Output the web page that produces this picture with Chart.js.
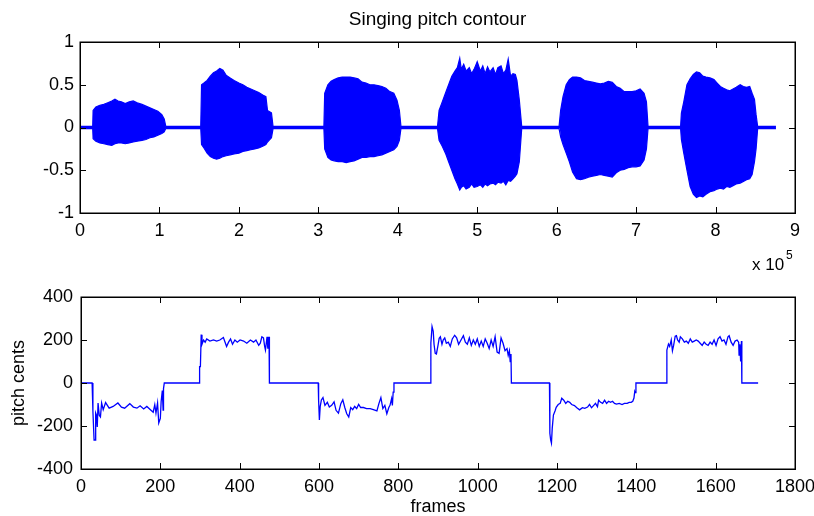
<!DOCTYPE html>
<html><head><meta charset="utf-8">
<script src="https://cdn.jsdelivr.net/npm/chart.js@4"></script>
<style>
html,body{margin:0;padding:0;background:#fff;}
#wrap{position:relative;width:814px;height:516px;overflow:hidden;}
#c1{position:absolute;left:0;top:0;width:814px;height:280px;}
#c2{position:absolute;left:0;top:280px;width:814px;height:236px;}
</style></head><body>
<div id="wrap"><canvas id="c1" width="814" height="280"></canvas><canvas id="c2" width="814" height="236"></canvas></div>
<script>
// ---------- DATA ----------
const titleText = 'Singing pitch contour';
const waveXTicks = [0,1,2,3,4,5,6,7,8,9];
const waveYTicks = [-1,-0.5,0,0.5,1];
const pitchXTicks = [0,200,400,600,800,1000,1200,1400,1600,1800];
const pitchYTicks = [-400,-200,0,200,400];
const xLabelBottom = 'frames';
const yLabelBottom = 'pitch cents';

// waveform envelope (x in units of 10^5 samples)
const waveX = [
 0, 0.16,
 0.165,0.2,0.25,0.3,0.35,0.4,0.44,0.48,0.52,0.57,0.62,0.67,0.72,0.78,0.83,0.88,0.93,0.98,1.03,1.06,1.08,
 1.1, 1.5,
 1.52,1.53,1.56,1.6,1.64,1.68,1.72,1.76,1.8,1.84,1.89,1.94,2.0,2.05,2.1,2.15,2.2,2.25,2.3,2.34,2.36,2.41,2.43,
 2.45, 3.05,
 3.07,3.08,3.12,3.16,3.2,3.25,3.3,3.35,3.4,3.45,3.5,3.55,3.6,3.65,3.7,3.75,3.8,3.85,3.9,3.95,3.99,4.02,4.04,
 4.06, 4.49,
 4.5,4.52,4.56,4.6,4.64,4.68,4.72,4.75,4.78,4.8,4.83,4.86,4.9,4.93,4.96,5.0,5.04,5.07,5.1,5.13,5.16,5.2,5.23,5.26,5.3,5.33,5.36,5.39,5.42,5.45,5.48,5.5,5.53,5.56,
 5.58, 6.03,
 6.04,6.05,6.08,6.12,6.16,6.2,6.25,6.3,6.35,6.4,6.45,6.5,6.55,6.6,6.65,6.7,6.75,6.8,6.85,6.9,6.95,7.0,7.05,7.1,7.13,7.15,
 7.17, 7.55,
 7.56,7.57,7.6,7.64,7.68,7.72,7.76,7.8,7.84,7.88,7.93,7.98,8.02,8.06,8.1,8.14,8.18,8.22,8.26,8.31,8.35,8.39,8.43,8.46,8.49,8.51,8.53,
 8.55, 8.76
];
const waveUpper = [
 0.012, 0.012,
 0.2,0.24,0.26,0.27,0.29,0.31,0.33,0.31,0.3,0.28,0.3,0.31,0.29,0.27,0.25,0.23,0.21,0.19,0.15,0.1,0.012,
 0.012, 0.012,
 0.012,0.5,0.52,0.55,0.6,0.64,0.66,0.69,0.67,0.61,0.58,0.55,0.52,0.5,0.47,0.45,0.43,0.41,0.38,0.36,0.2,0.17,0.012,
 0.012, 0.012,
 0.012,0.4,0.5,0.54,0.56,0.58,0.59,0.59,0.59,0.58,0.57,0.53,0.52,0.5,0.5,0.49,0.48,0.46,0.42,0.4,0.32,0.2,0.012,
 0.012, 0.012,
 0.012,0.2,0.3,0.4,0.5,0.6,0.66,0.7,0.81,0.68,0.74,0.66,0.7,0.63,0.68,0.77,0.66,0.72,0.63,0.71,0.65,0.7,0.62,0.7,0.72,0.63,0.67,0.8,0.6,0.63,0.62,0.55,0.32,0.012,
 0.012, 0.012,
 0.012,0.2,0.36,0.5,0.56,0.59,0.59,0.58,0.55,0.54,0.53,0.52,0.51,0.52,0.54,0.53,0.48,0.46,0.42,0.42,0.42,0.43,0.45,0.4,0.3,0.012,
 0.012, 0.012,
 0.012,0.17,0.3,0.5,0.57,0.62,0.65,0.64,0.6,0.59,0.58,0.56,0.52,0.48,0.46,0.44,0.43,0.45,0.47,0.5,0.48,0.47,0.48,0.4,0.33,0.15,0.012,
 0.012, 0.012
];
const waveLower = [
 -0.012, -0.012,
 -0.13,-0.16,-0.18,-0.19,-0.2,-0.21,-0.19,-0.18,-0.18,-0.19,-0.18,-0.17,-0.16,-0.15,-0.14,-0.12,-0.11,-0.09,-0.07,-0.05,-0.012,
 -0.012, -0.012,
 -0.012,-0.2,-0.24,-0.3,-0.34,-0.36,-0.37,-0.36,-0.34,-0.33,-0.32,-0.31,-0.3,-0.28,-0.27,-0.26,-0.25,-0.24,-0.22,-0.2,-0.17,-0.12,-0.012,
 -0.012, -0.012,
 -0.012,-0.25,-0.35,-0.38,-0.39,-0.4,-0.4,-0.41,-0.4,-0.39,-0.37,-0.35,-0.35,-0.34,-0.34,-0.33,-0.32,-0.3,-0.28,-0.26,-0.22,-0.15,-0.012,
 -0.012, -0.012,
 -0.012,-0.15,-0.22,-0.3,-0.4,-0.5,-0.6,-0.66,-0.73,-0.7,-0.68,-0.72,-0.7,-0.66,-0.7,-0.69,-0.67,-0.7,-0.66,-0.68,-0.66,-0.65,-0.67,-0.64,-0.65,-0.63,-0.67,-0.62,-0.63,-0.6,-0.57,-0.54,-0.4,-0.012,
 -0.012, -0.012,
 -0.012,-0.11,-0.2,-0.3,-0.4,-0.52,-0.6,-0.61,-0.6,-0.58,-0.57,-0.56,-0.55,-0.56,-0.57,-0.58,-0.53,-0.5,-0.49,-0.47,-0.46,-0.46,-0.45,-0.38,-0.25,-0.012,
 -0.012, -0.012,
 -0.012,-0.14,-0.3,-0.5,-0.69,-0.78,-0.82,-0.8,-0.81,-0.78,-0.75,-0.74,-0.72,-0.71,-0.72,-0.69,-0.7,-0.68,-0.66,-0.65,-0.63,-0.61,-0.6,-0.55,-0.4,-0.25,-0.012,
 -0.012, -0.012
];

// pitch contour
const pitchFrames = [
 0,28,
 30,33,36,37,39,41,43,46,49,52,56,62,71,81,93,102,110,123,132,141,149,158,166,175,182,186,189,193,196,200,202,205,207,208,210,
 298,
 299,301,303,305,309,313,317,325,334,342,350,359,367,372,377,382,388,394,401,410,418,427,435,441,448,452,456,460,463,465,469,471,474,475,
 598,
 599,601,603,606,610,615,621,626,632,638,643,649,655,660,665,670,675,680,685,690,695,700,705,712,720,729,737,746,751,756,761,766,771,776,779,783,785,787,789,
 881,
 882,883,885,888,890,893,896,900,903,906,910,913,917,921,926,931,936,942,947,952,958,964,969,974,979,984,989,994,999,1004,1009,1014,1019,1024,1029,1034,1039,1044,1049,1054,1059,1064,1069,1074,1077,1080,1082,1084,1085,
 1181,
 1182,1184,1186,1188,1191,1195,1198,1203,1208,1212,1217,1222,1227,1232,1237,1244,1250,1257,1264,1270,1277,1282,1287,1292,1297,1302,1305,1310,1315,1320,1325,1330,1335,1340,1345,1350,1357,1364,1370,1377,1382,1387,1391,1394,1396,1397,1399,
 1476,
 1477,1478,1481,1484,1488,1491,1494,1498,1501,1504,1508,1511,1516,1521,1526,1531,1536,1541,1546,1551,1556,1561,1566,1571,1576,1581,1586,1591,1596,1601,1606,1611,1616,1621,1626,1631,1634,1639,1644,1649,1654,1658,1659,1661,1663,1665,1666,
 1707
];
const pitchCents = [
 0,0,
 -130,-265,-265,-140,-150,-205,-93,-150,-158,-93,-124,-91,-117,-109,-93,-112,-117,-96,-112,-117,-106,-121,-109,-124,-136,-101,-140,-93,-186,-165,-87,-35,-126,-26,0,
 0,
 76,76,225,180,200,190,205,195,200,195,200,212,170,190,205,180,200,190,200,195,185,200,190,200,175,185,215,210,170,153,215,160,215,0,
 0,
 -80,-172,-110,-79,-68,-104,-90,-112,-104,-88,-127,-140,-96,-78,-114,-143,-158,-114,-124,-109,-119,-99,-114,-114,-119,-119,-124,-130,-96,-68,-119,-104,-143,-114,-104,-73,-104,-42,0,
 0,
 186,210,262,240,180,138,135,175,208,215,180,200,210,185,190,170,205,222,210,180,200,220,190,180,210,175,200,180,205,170,195,170,205,185,160,200,170,215,144,138,210,185,150,160,128,150,99,135,0,
 0,
 -234,-265,-280,-210,-149,-130,-113,-100,-95,-71,-80,-95,-85,-90,-100,-105,-115,-125,-115,-118,-112,-100,-115,-105,-95,-110,-80,-90,-95,-80,-95,-85,-90,-85,-95,-98,-95,-100,-95,-95,-90,-90,-85,-70,-40,-45,0,
 0,
 153,160,181,170,200,150,175,218,220,200,190,215,205,190,195,185,205,190,195,200,195,185,175,190,180,175,190,180,200,175,205,215,195,200,180,215,220,190,175,195,200,190,130,180,100,195,0,
 0
];

// ---------- STYLE ----------
const FONT = "'Liberation Sans', Arial, Helvetica, sans-serif";
const BLUE = '#0000ff';

const frameTicks = {
  id: 'frameTicks',
  afterDatasetsDraw(chart) {
    const {ctx, chartArea: a, scales} = chart;
    const x = scales.x, y = scales.y;
    const L = 6;
    ctx.save();
    ctx.strokeStyle = '#000';
    ctx.lineWidth = 1;
    ctx.beginPath();
    x.ticks.forEach(t => {
      const px = Math.round(x.getPixelForValue(t.value)) + 0.5;
      ctx.moveTo(px, a.bottom); ctx.lineTo(px, a.bottom - L);
      ctx.moveTo(px, a.top); ctx.lineTo(px, a.top + L);
    });
    y.ticks.forEach(t => {
      const py = Math.round(y.getPixelForValue(t.value)) + 0.5;
      ctx.moveTo(a.left, py); ctx.lineTo(a.left + L, py);
      ctx.moveTo(a.right, py); ctx.lineTo(a.right - L, py);
    });
    ctx.stroke();
    ctx.lineWidth = 1.5;
    ctx.strokeRect(Math.round(a.left) + 0.25, Math.round(a.top) + 0.25, Math.round(a.right - a.left), Math.round(a.bottom - a.top));
    ctx.restore();
  }
};

const expLabel = {
  id: 'expLabel',
  afterDraw(chart) {
    const ctx = chart.ctx;
    ctx.save();
    ctx.fillStyle = '#000';
    ctx.textBaseline = 'alphabetic';
    ctx.textAlign = 'left';
    ctx.font = '17px ' + FONT;
    ctx.fillText('x 10', 752, 270);
    ctx.font = '12px ' + FONT;
    ctx.fillText('5', 786, 259);
    ctx.restore();
  }
};

function tickCb(v) { return String(v); }
function noEdgePad(s) { s.paddingLeft = 0; s.paddingRight = 0; s.paddingTop = 0; s.paddingBottom = 0; }

// ---------- TOP CHART ----------
new Chart(document.getElementById('c1'), {
  type: 'line',
  data: {
    datasets: [
      {
        data: waveX.map((x, i) => ({x, y: waveUpper[i]})),
        borderColor: BLUE, backgroundColor: BLUE, borderWidth: 1.2,
        fill: '+1', pointRadius: 0, tension: 0
      },
      {
        data: waveX.map((x, i) => ({x, y: waveLower[i]})),
        borderColor: BLUE, backgroundColor: BLUE, borderWidth: 1.2,
        fill: false, pointRadius: 0, tension: 0
      }
    ]
  },
  options: {
    responsive: false, animation: false, devicePixelRatio: 1,
    layout: {padding: {top: 0, right: 19, bottom: 0, left: 0}},
    plugins: {
      legend: {display: false}, tooltip: {enabled: false},
      title: {display: true, text: titleText, fullSize: false, color: '#000',
        font: {family: FONT, size: 19, weight: 'normal', lineHeight: 1.2},
        padding: {top: 8, bottom: 11.2}}
    },
    scales: {
      x: {
        type: 'linear', min: 0, max: 9,
        afterBuildTicks: s => { s.ticks = waveXTicks.map(v => ({value: v})); },
        afterFit: s => { s.height = 67; noEdgePad(s); },
        grid: {display: false, drawTicks: false}, border: {display: false},
        ticks: {color: '#000', padding: 7, font: {family: FONT, size: 18}, callback: tickCb, maxRotation: 0, autoSkip: false}
      },
      y: {
        type: 'linear', min: -1, max: 1,
        afterBuildTicks: s => { s.ticks = waveYTicks.map(v => ({value: v})); },
        afterFit: s => { s.width = 80; noEdgePad(s); },
        grid: {display: false, drawTicks: false}, border: {display: false},
        ticks: {color: '#000', padding: 6, font: {family: FONT, size: 18}, callback: tickCb, autoSkip: false}
      }
    }
  },
  plugins: [frameTicks, expLabel]
});

// ---------- BOTTOM CHART ----------
new Chart(document.getElementById('c2'), {
  type: 'line',
  data: {
    datasets: [{
      data: pitchFrames.map((x, i) => ({x, y: pitchCents[i]})),
      borderColor: BLUE, borderWidth: 1.3, fill: false, pointRadius: 0, tension: 0
    }]
  },
  options: {
    responsive: false, animation: false, devicePixelRatio: 1,
    layout: {padding: {top: 17, right: 19, bottom: 0, left: 0}},
    plugins: {legend: {display: false}, tooltip: {enabled: false}},
    scales: {
      x: {
        type: 'linear', min: 0, max: 1800,
        afterBuildTicks: s => { s.ticks = pitchXTicks.map(v => ({value: v})); },
        afterFit: s => { s.height = 47; noEdgePad(s); },
        grid: {display: false, drawTicks: false}, border: {display: false},
        ticks: {color: '#000', padding: 7, font: {family: FONT, size: 18}, callback: tickCb, maxRotation: 0, autoSkip: false},
        title: {display: true, text: xLabelBottom, color: '#000', font: {family: FONT, size: 18, lineHeight: 1}, padding: {top: 0, bottom: 0}}
      },
      y: {
        type: 'linear', min: -400, max: 400,
        afterBuildTicks: s => { s.ticks = pitchYTicks.map(v => ({value: v})); },
        afterFit: s => { s.width = 81; noEdgePad(s); },
        grid: {display: false, drawTicks: false}, border: {display: false},
        ticks: {color: '#000', padding: 8, font: {family: FONT, size: 18}, callback: tickCb, autoSkip: false},
        title: {display: true, text: yLabelBottom, color: '#000', font: {family: FONT, size: 18, lineHeight: 1.2}, padding: {top: 8, bottom: 0}}
      }
    }
  },
  plugins: [frameTicks]
});
</script>
</body></html>
